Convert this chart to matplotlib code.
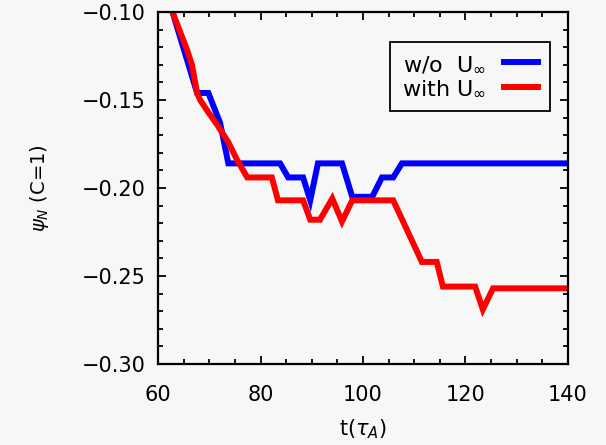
import matplotlib
matplotlib.use("Agg")
import matplotlib.pyplot as plt
from matplotlib.ticker import MultipleLocator, FuncFormatter

# values
t_wo = [62.8, 67.6, 69.8, 72.1, 73.7, 83.8, 85.4, 88.3, 89.7, 91.2, 95.9,
        97.9, 101.8, 103.7, 105.9, 107.6, 139.4]
psi_wo = [-0.100, -0.146, -0.146, -0.163, -0.186, -0.186, -0.194, -0.194,
          -0.207, -0.186, -0.186, -0.205, -0.205, -0.194, -0.194, -0.186, -0.186]

t_with = [62.8, 65.7, 66.6, 67.6, 68.2, 69.8, 71.5, 73.7, 75.4, 77.4, 82.2,
          83.4, 88.3, 89.7, 91.6, 94.0, 95.9, 97.9, 105.9, 111.5, 114.4,
          115.6, 121.9, 123.4, 125.4, 139.4]
psi_with = [-0.100, -0.122, -0.130, -0.146, -0.150, -0.157, -0.164, -0.174,
            -0.184, -0.194, -0.194, -0.207, -0.207, -0.218, -0.218, -0.206,
            -0.219, -0.207, -0.207, -0.242, -0.242, -0.256, -0.256, -0.269,
            -0.257, -0.257]

bg = "#f7f7f7"
fig = plt.figure(figsize=(6.06, 4.45), dpi=100, facecolor=bg)
ax = fig.add_axes([0.261, 0.182, 0.676, 0.791], facecolor=bg)

ax.plot(t_wo, psi_wo, color="#0000ff", lw=4.3, label=r"w/o  U$_\infty$",
        solid_joinstyle="miter")
ax.plot(t_with, psi_with, color="#ff0000", lw=4.3, label=r"with U$_\infty$",
        solid_joinstyle="miter")

ax.set_xlim(60, 140)
ax.set_ylim(-0.30, -0.10)
ax.xaxis.set_major_locator(MultipleLocator(20))
ax.xaxis.set_minor_locator(MultipleLocator(5))
ax.yaxis.set_major_locator(MultipleLocator(0.05))
ax.yaxis.set_minor_locator(MultipleLocator(0.01))
ax.yaxis.set_major_formatter(FuncFormatter(lambda v, p: ("%.2f" % v).replace("-", "\u2212")))
ax.tick_params(which="both", direction="in", top=True, right=True,
               labelsize=15, color="black", width=1.3)
ax.tick_params(which="major", length=6, pad=9)
ax.tick_params(which="minor", length=3.5)
ax.tick_params(axis="x", which="major", pad=15)
for s in ax.spines.values():
    s.set_linewidth(1.6)

ax.set_xlabel(r"t($\tau_A$)", fontsize=15, labelpad=9)
ax.set_ylabel(r"$\psi_N$ (C=1)", fontsize=14, labelpad=22)

leg = ax.legend(loc="upper right", bbox_to_anchor=(0.956, 0.915),
                borderaxespad=0, markerfirst=False, fontsize=16,
                fancybox=False, framealpha=1, edgecolor="black",
                facecolor=bg, handlelength=1.5, borderpad=0.55,
                labelspacing=0.2, handletextpad=0.8)
leg.get_frame().set_linewidth(1.3)

fig.savefig("out.png", dpi=100, facecolor=bg)
